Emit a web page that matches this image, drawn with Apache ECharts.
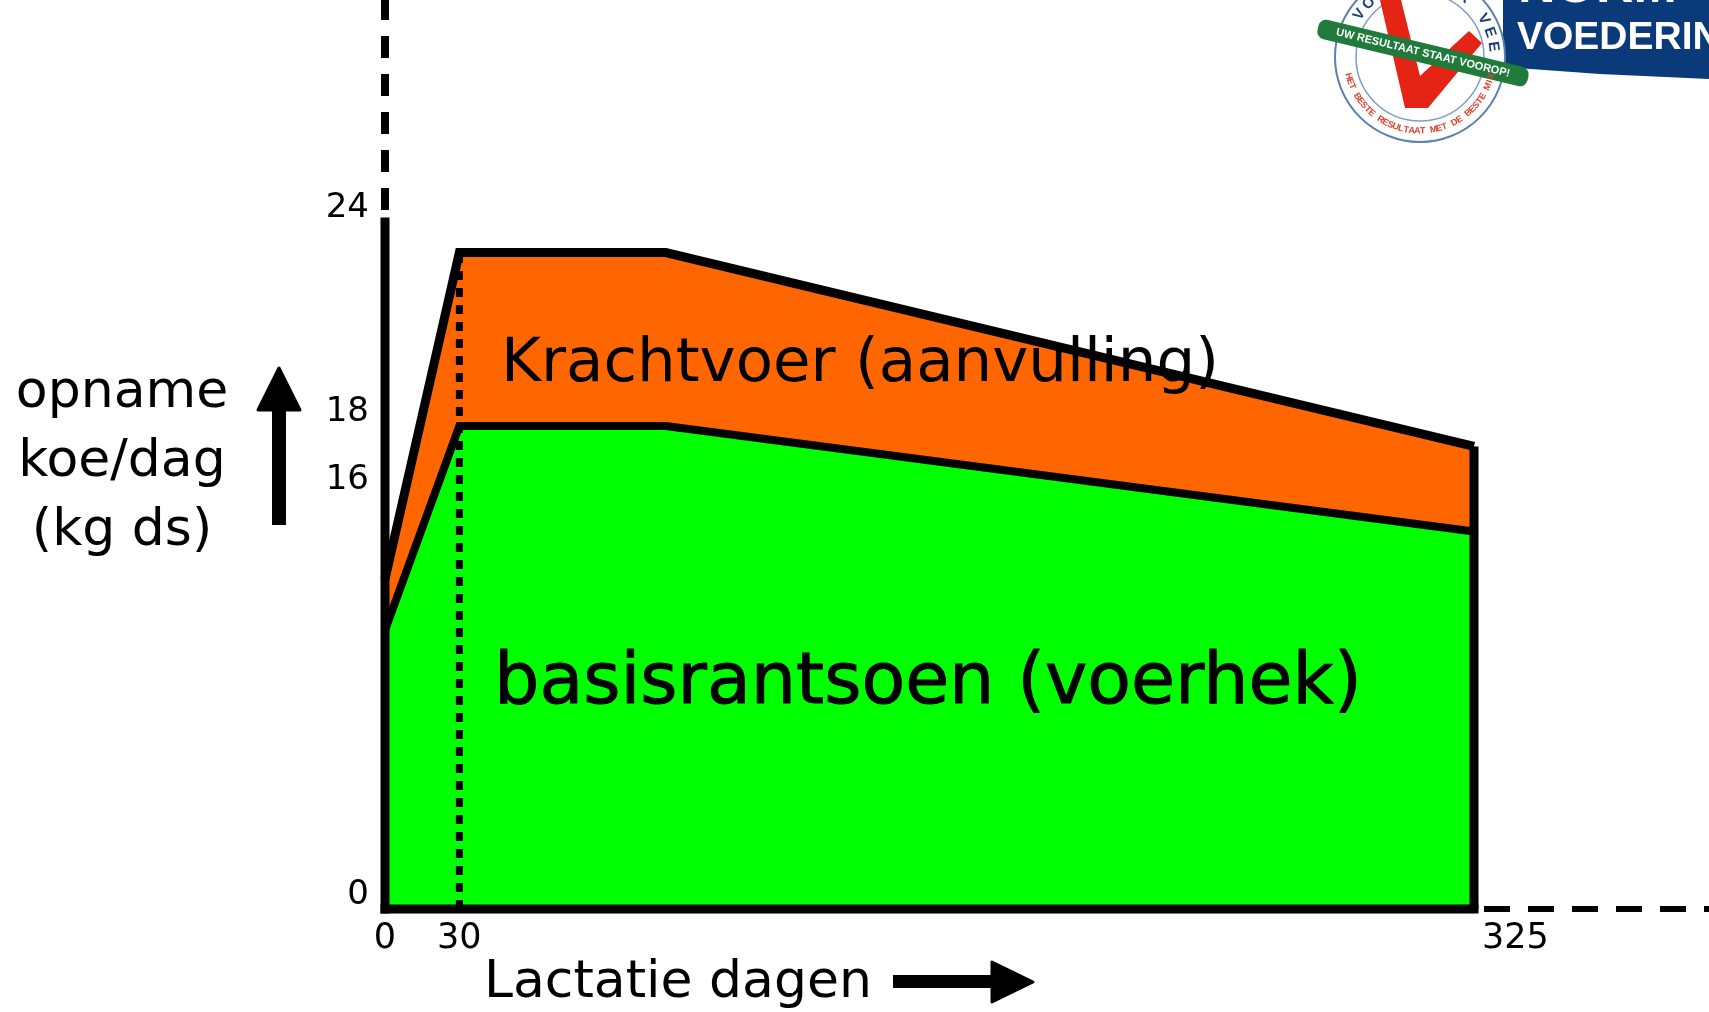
<!DOCTYPE html>
<html>
<head>
<meta charset="utf-8">
<script src="https://cdn.jsdelivr.net/npm/echarts@6/dist/echarts.min.js"></script>
<style>
html,body{margin:0;padding:0;background:#fff;}
#chart{width:1709px;height:1012px;}
</style>
</head>
<body>
<div id="chart"></div>
<script>
// ---- data ----
const days = [0, 30, 90, 325];
const krachtvoerTop = [13.5, 23.1, 23.1, 17.4];   // total intake (top of orange)
const basisrantsoen = [12, 18, 18, 14.9];         // basic ration (top of green)
const xTicks = [0, 30, 325];
const yTicks = [0, 16, 18, 24];
const peakDay = 30;
const xMax = 325, yMax = 24;

const FONT = 'DejaVu Sans';
const chart = echarts.init(document.getElementById('chart'), null, {renderer: 'canvas'});

const topData = days.map((d, i) => [d, krachtvoerTop[i]]);
const baseData = days.map((d, i) => [d, basisrantsoen[i]]);
const lastDay = days[days.length - 1];
const lastTop = krachtvoerTop[krachtvoerTop.length - 1];
const peakTop = krachtvoerTop[days.indexOf(peakDay)];

function arcText(str, cx, cy, R, phiStart, phiEnd, color, size, outward) {
  const els = [];
  const n = str.length;
  for (let i = 0; i < n; i++) {
    const phi = (phiStart + (phiEnd - phiStart) * (n === 1 ? 0.5 : i / (n - 1))) * Math.PI / 180;
    const x = cx + R * Math.cos(phi), y = cy + R * Math.sin(phi);
    const deg = phi * 180 / Math.PI;
    const rot = outward ? -(deg - 270) * Math.PI / 180 : -(deg - 90) * Math.PI / 180;
    els.push({type: 'text', x: x, y: y, rotation: rot, z: 50,
      style: {text: str[i], fill: color, font: 'bold ' + size + 'px "Liberation Sans"', align: 'center', verticalAlign: 'middle'}});
  }
  return els;
}

const option = {
  animation: false,
  backgroundColor: '#ffffff',
  grid: {left: 385, right: 235, top: 222, bottom: 103},
  xAxis: {
    type: 'value', min: 0, max: xMax, z: 10,
    breaks: [{start: 5, end: 25, gap: '3.67%'}],
    breakArea: {show: false},
    axisLine: {show: false},
    axisTick: {show: false},
    splitLine: {show: false},
    axisLabel: {customValues: xTicks, color: '#000', fontFamily: FONT, fontSize: 35, margin: 12,
      alignMinLabel: 'center', alignMaxLabel: 'left',
      formatter: v => (v === xMax ? '{m|' + v + '}' : String(v)),
      rich: {m: {fontFamily: FONT, fontSize: 35, color: '#000', padding: [0, 0, 0, 8]}}}
  },
  yAxis: {
    type: 'value', min: 0, max: yMax, z: 10,
    breaks: [{start: 2, end: 10, gap: '20.8%'}],
    breakArea: {show: false},
    axisLine: {show: false},
    axisTick: {show: false},
    splitLine: {show: false},
    axisLabel: {customValues: yTicks, color: '#000', fontFamily: FONT, fontSize: 34, margin: 16,
      verticalAlign: 'bottom', lineHeight: 28}
  },
  series: [
    {name: 'Krachtvoer', type: 'line', data: topData, symbol: 'none', z: 2,
      lineStyle: {color: '#000', width: 9, join: 'miter'},
      areaStyle: {color: '#ff6600', opacity: 1}},
    {name: 'basisrantsoen', type: 'line', data: baseData, symbol: 'none', z: 3,
      lineStyle: {color: '#000', width: 8, join: 'miter'},
      areaStyle: {color: '#00ff00', opacity: 1}},
    {name: 'einde', type: 'line', data: [[lastDay, 0], [lastDay, lastTop]], symbol: 'none', z: 4,
      lineStyle: {color: '#000', width: 9}},
    {name: 'piek', type: 'line', data: [[peakDay, 0], [peakDay, peakTop]], symbol: 'none', z: 5,
      lineStyle: {color: '#000', width: 7, type: [9, 8]}},
    {name: 'y-as', type: 'line', data: [[0, 0], [0, yMax]], symbol: 'none', z: 6, clip: false,
      lineStyle: {color: '#000', width: 9, cap: 'square'}},
    {name: 'x-as', type: 'line', data: [[0, 0], [xMax, 0]], symbol: 'none', z: 6, clip: false,
      lineStyle: {color: '#000', width: 9, cap: 'square'}}
  ]
};
chart.setOption(option);

const o = chart.convertToPixel({gridIndex: 0}, [0, 0]);
const t = chart.convertToPixel({gridIndex: 0}, [0, yMax]);
const e = chart.convertToPixel({gridIndex: 0}, [xMax, 0]);

const graphics = [
  // dashed axis extensions
  {type: 'line', z: 20, shape: {x1: o[0], y1: t[1] - 12, x2: o[0], y2: 0},
    style: {stroke: '#000', lineWidth: 8, lineDash: [22, 16]}},
  {type: 'line', z: 20, shape: {x1: e[0] + 10, y1: e[1], x2: 1709, y2: e[1]},
    style: {stroke: '#000', lineWidth: 6, lineDash: [26, 18]}},
  // area labels
  {type: 'text', x: 501, y: 365, z: 30,
    style: {text: 'Krachtvoer (aanvulling)', fill: '#000', font: '61px "DejaVu Sans"', verticalAlign: 'middle'}},
  {type: 'text', x: 494, y: 684, z: 30,
    style: {text: 'basisrantsoen (voerhek)', fill: '#000', font: '71.5px "DejaVu Sans"', verticalAlign: 'middle',
      stroke: '#000', lineWidth: 1}},
  // y axis title
  {type: 'text', x: 122, y: 462, z: 30,
    style: {text: 'opname\nkoe/dag\n(kg ds)', fill: '#000', font: '52px "DejaVu Sans"', lineHeight: 69,
      align: 'center', verticalAlign: 'middle'}},
  // up arrow
  {type: 'rect', z: 30, shape: {x: 272, y: 400, width: 14, height: 125}, style: {fill: '#000'}},
  {type: 'polygon', z: 30, shape: {points: [[258, 410], [300, 410], [279, 368]]},
    style: {fill: '#000', stroke: '#000', lineWidth: 3, lineJoin: 'round'}},
  // x axis title
  {type: 'text', x: 484, y: 983, z: 30,
    style: {text: 'Lactatie dagen', fill: '#000', font: '52px "DejaVu Sans"', verticalAlign: 'middle'}},
  // right arrow
  {type: 'rect', z: 30, shape: {x: 893, y: 975, width: 105, height: 13}, style: {fill: '#000'}},
  {type: 'polygon', z: 30, shape: {points: [[992, 962], [992, 1002], [1033, 982]]},
    style: {fill: '#000', stroke: '#000', lineWidth: 3, lineJoin: 'round'}},
  // logo: blue banner
  {type: 'polygon', z: 40, shape: {points: [[1503, 0], [1709, 0], [1709, 79], [1600, 74], [1503, 67]]},
    style: {fill: '#0b3a7a'}},
  {type: 'text', x: 1518, y: 14, z: 41,
    style: {text: 'NORM', fill: '#fff', font: 'bold 52px "Liberation Sans"', verticalAlign: 'bottom'}},
  {type: 'text', x: 1517, y: 38, z: 41,
    style: {text: 'VOEDERING', fill: '#fff', font: 'bold 39px "Liberation Sans"', verticalAlign: 'middle'}},
  // seal
  {type: 'circle', z: 42, shape: {cx: 1420, cy: 57, r: 85}, style: {fill: '#fff', stroke: '#5b7fb0', lineWidth: 2}},
  {type: 'circle', z: 43, shape: {cx: 1420, cy: 57, r: 64}, style: {fill: 'none', stroke: '#7f9cc4', lineWidth: 1.5}},
  {type: 'polygon', z: 44, shape: {points: [[1380, 0], [1401, 0], [1420, 76], [1469, 31], [1482, 43], [1428, 108], [1405, 108]]},
    style: {fill: '#e52415'}},
  {type: 'rect', z: 46, x: 1423, y: 53, rotation: -0.236,
    shape: {x: -108, y: -10, width: 216, height: 20, r: 8}, style: {fill: '#1f7a3c'}},
  {type: 'text', z: 47, x: 1423, y: 53, rotation: -0.236,
    style: {text: 'UW RESULTAAT STAAT VOOROP!', fill: '#fff', font: 'bold 11px "Liberation Sans"', align: 'center', verticalAlign: 'middle'}}
].concat(
  arcText('HET BESTE RESULTAAT MET DE BESTE MIX', 1420, 57, 74, 165, 15, '#e04030', 9, false),
  arcText('VOER VOOR VEE', 1420, 57, 74, 215, 352, '#1d3f7a', 15, true)
);
chart.setOption({graphic: graphics});
</script>
</body>
</html>
